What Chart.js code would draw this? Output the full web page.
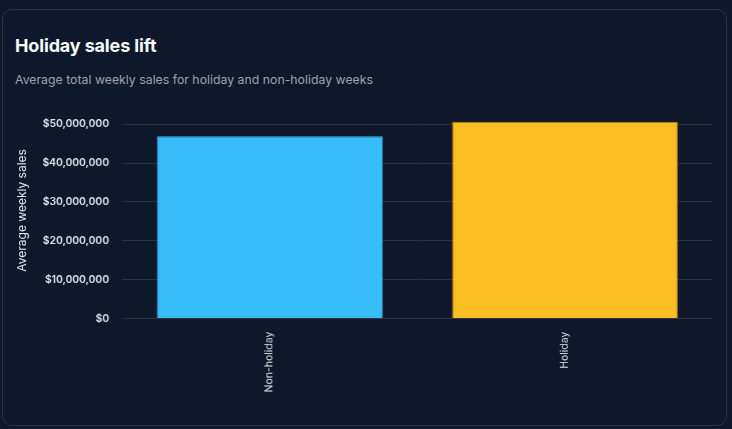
<!DOCTYPE html>
<html>
<head>
<meta charset="utf-8">
<script src="https://cdn.jsdelivr.net/npm/chart.js@4"></script>
<style>
  html, body { margin: 0; padding: 0; background: #0f172a; width: 732px; height: 429px; overflow: hidden; font-family: Inter, "Noto Sans", sans-serif; }
  .card { position: absolute; left: 2px; top: 9px; width: 723px; height: 415px; border: 1px solid #2a3447; border-radius: 10px; background: #0f172a; box-sizing: content-box; }
  h1 { position: absolute; left: 12px; top: 25px; margin: 0; font-size: 18px; font-weight: 700; color: #f8fafc; letter-spacing: -0.15px; }
  p { position: absolute; left: 12px; top: 62px; margin: 0; font-size: 12.3px; color: #94a3b8; }
  .wrap { position: absolute; left: 6px; top: 72.5px; width: 702.5px; height: 314.5px; }
</style>
</head>
<body>
<div class="card">
  <h1>Holiday sales lift</h1>
  <p>Average total weekly sales for holiday and non-holiday weeks</p>
  <div class="wrap"><canvas id="c"></canvas></div>
</div>
<script>
const categories = ["Non-holiday", "Holiday"];
const avgWeeklySales = [46900000, 50600000];
const tickStep = 10000000;
const barColors = ["#38bdf8", "#fbbf24"];
const barBorders = ["#38bdf8", "#b8860b"];

const fmt = v => "$" + Math.round(v).toLocaleString("en-US");

new Chart(document.getElementById("c"), {
  type: "bar",
  data: {
    labels: categories,
    datasets: [{
      label: "Average weekly sales",
      data: avgWeeklySales,
      backgroundColor: barColors,
      borderColor: barBorders,
      borderWidth: 1,
      barPercentage: 0.85,
      categoryPercentage: 0.9
    }]
  },
  options: {
    responsive: true,
    maintainAspectRatio: false,
    animation: false,
    layout: { padding: 0 },
    plugins: { legend: { display: false }, tooltip: { enabled: false } },
    scales: {
      x: {
        grid: { display: false },
        border: { display: false },
        ticks: { color: "#dbe2ea", font: { family: "Inter", size: 10.5 }, maxRotation: 90, minRotation: 90, padding: 5 }
      },
      y: {
        beginAtZero: true,
        bounds: "data",
        suggestedMax: Math.max(...avgWeeklySales) * 1.1,
        border: { display: false },
        grid: { color: "rgba(148,163,184,0.2)", drawTicks: false },
        afterBuildTicks: s => { s.ticks = s.ticks.filter(t => t.value % tickStep === 0); },
        ticks: { stepSize: tickStep, color: "#e2e8f0", font: { family: "Inter", size: 10.3, weight: 600 }, padding: 13, callback: v => fmt(v) },
        title: { display: true, text: "Average weekly sales", color: "#e2e8f0", font: { family: "Inter", size: 12 }, padding: { top: 6, bottom: 0 } }
      }
    }
  }
});
</script>
</body>
</html>
